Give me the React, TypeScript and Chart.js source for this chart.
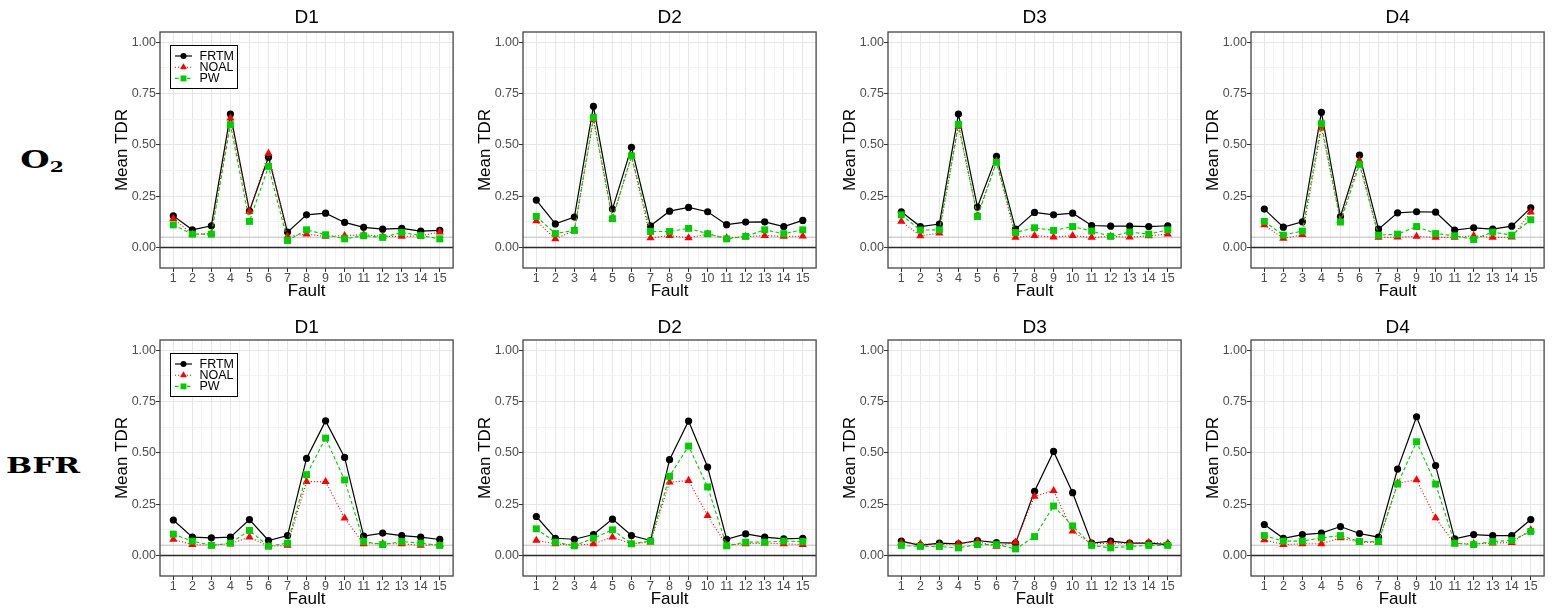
import React, { useEffect, useRef } from 'react';
import { Chart, registerables } from 'chart.js';
Chart.register(...registerables);

const FONT = 'Liberation Sans, Arial, Helvetica, sans-serif';
Chart.defaults.font.family = FONT;

const faults = [1, 2, 3, 4, 5, 6, 7, 8, 9, 10, 11, 12, 13, 14, 15];
const xGridValues = [0.5, 1, 1.5, 2, 2.5, 3, 3.5, 4, 4.5, 5, 5.5, 6, 6.5, 7, 7.5, 8, 8.5, 9, 9.5, 10, 10.5, 11, 11.5, 12, 12.5, 13, 13.5, 14, 14.5, 15, 15.5];
const yGridValues = [0, 0.125, 0.25, 0.375, 0.5, 0.625, 0.75, 0.875, 1];
const yTickLabels: Record<string, string> = { '0': '0.00', '0.25': '0.25', '0.5': '0.50', '0.75': '0.75', '1': '1.00' };
const seriesNames = ['FRTM', 'NOAL', 'PW'];
const panelTitles = ['D1', 'D2', 'D3', 'D4'];
const rowLabels = ['O', 'BFR'];

// O2 row
const o2D1Frtm = [0.154, 0.086, 0.106, 0.650, 0.178, 0.440, 0.075, 0.159, 0.167, 0.122, 0.098, 0.089, 0.093, 0.080, 0.083];
const o2D1Noal = [0.140, 0.065, 0.067, 0.630, 0.175, 0.458, 0.054, 0.065, 0.054, 0.058, 0.062, 0.054, 0.054, 0.057, 0.075];
const o2D1Pw = [0.110, 0.065, 0.065, 0.598, 0.127, 0.395, 0.034, 0.086, 0.062, 0.042, 0.057, 0.049, 0.073, 0.058, 0.042];

const o2D2Frtm = [0.231, 0.115, 0.148, 0.688, 0.187, 0.488, 0.106, 0.177, 0.195, 0.174, 0.111, 0.124, 0.125, 0.102, 0.132];
const o2D2Noal = [0.130, 0.042, 0.083, 0.623, 0.140, 0.444, 0.047, 0.058, 0.047, 0.065, 0.047, 0.052, 0.058, 0.054, 0.055];
const o2D2Pw = [0.151, 0.068, 0.083, 0.633, 0.140, 0.446, 0.078, 0.078, 0.093, 0.067, 0.042, 0.054, 0.086, 0.067, 0.086];

const o2D3Frtm = [0.174, 0.102, 0.114, 0.650, 0.197, 0.444, 0.089, 0.171, 0.159, 0.167, 0.107, 0.104, 0.104, 0.102, 0.106];
const o2D3Noal = [0.127, 0.057, 0.070, 0.590, 0.154, 0.420, 0.049, 0.058, 0.050, 0.058, 0.049, 0.054, 0.050, 0.057, 0.065];
const o2D3Pw = [0.159, 0.085, 0.086, 0.600, 0.151, 0.415, 0.073, 0.096, 0.083, 0.102, 0.080, 0.054, 0.075, 0.065, 0.086];

const o2D4Frtm = [0.187, 0.099, 0.125, 0.659, 0.151, 0.450, 0.089, 0.169, 0.174, 0.172, 0.085, 0.096, 0.089, 0.104, 0.193];
const o2D4Noal = [0.110, 0.044, 0.062, 0.582, 0.132, 0.423, 0.049, 0.050, 0.054, 0.049, 0.049, 0.057, 0.049, 0.050, 0.172];
const o2D4Pw = [0.127, 0.060, 0.080, 0.603, 0.124, 0.405, 0.060, 0.065, 0.102, 0.068, 0.057, 0.039, 0.075, 0.060, 0.135];

// BFR row
const bfrD1Frtm = [0.173, 0.089, 0.086, 0.089, 0.175, 0.073, 0.097, 0.473, 0.656, 0.478, 0.094, 0.109, 0.097, 0.089, 0.078];
const bfrD1Noal = [0.078, 0.053, 0.050, 0.057, 0.089, 0.045, 0.049, 0.360, 0.360, 0.182, 0.057, 0.057, 0.057, 0.049, 0.053];
const bfrD1Pw = [0.104, 0.070, 0.049, 0.060, 0.122, 0.045, 0.060, 0.394, 0.572, 0.368, 0.068, 0.053, 0.068, 0.060, 0.049];

const bfrD2Frtm = [0.190, 0.084, 0.079, 0.102, 0.177, 0.097, 0.073, 0.467, 0.655, 0.431, 0.079, 0.105, 0.089, 0.081, 0.084];
const bfrD2Noal = [0.073, 0.057, 0.049, 0.057, 0.089, 0.057, 0.065, 0.357, 0.365, 0.194, 0.050, 0.057, 0.060, 0.057, 0.053];
const bfrD2Pw = [0.130, 0.065, 0.047, 0.084, 0.125, 0.057, 0.070, 0.386, 0.533, 0.334, 0.047, 0.065, 0.065, 0.070, 0.068];

const bfrD3Frtm = [0.070, 0.049, 0.060, 0.057, 0.073, 0.063, 0.060, 0.313, 0.507, 0.306, 0.060, 0.070, 0.060, 0.060, 0.053];
const bfrD3Noal = [0.063, 0.057, 0.053, 0.057, 0.068, 0.044, 0.065, 0.288, 0.316, 0.118, 0.057, 0.060, 0.060, 0.063, 0.060];
const bfrD3Pw = [0.049, 0.044, 0.044, 0.037, 0.053, 0.053, 0.032, 0.092, 0.241, 0.144, 0.049, 0.037, 0.044, 0.049, 0.049];

const bfrD4Frtm = [0.151, 0.084, 0.102, 0.109, 0.141, 0.107, 0.089, 0.421, 0.676, 0.438, 0.081, 0.102, 0.097, 0.097, 0.175];
const bfrD4Noal = [0.076, 0.053, 0.057, 0.057, 0.086, 0.063, 0.063, 0.353, 0.368, 0.183, 0.057, 0.057, 0.060, 0.063, 0.125];
const bfrD4Pw = [0.097, 0.070, 0.070, 0.086, 0.097, 0.068, 0.068, 0.348, 0.554, 0.348, 0.060, 0.053, 0.068, 0.073, 0.117];

const refLines = [0, 0.05];

type Panel = { row: number; col: number; sets: number[][]; legend: boolean };

const panels: Panel[] = [
  { row: 0, col: 0, sets: [o2D1Frtm, o2D1Noal, o2D1Pw], legend: true },
  { row: 0, col: 1, sets: [o2D2Frtm, o2D2Noal, o2D2Pw], legend: false },
  { row: 0, col: 2, sets: [o2D3Frtm, o2D3Noal, o2D3Pw], legend: false },
  { row: 0, col: 3, sets: [o2D4Frtm, o2D4Noal, o2D4Pw], legend: false },
  { row: 1, col: 0, sets: [bfrD1Frtm, bfrD1Noal, bfrD1Pw], legend: true },
  { row: 1, col: 1, sets: [bfrD2Frtm, bfrD2Noal, bfrD2Pw], legend: false },
  { row: 1, col: 2, sets: [bfrD3Frtm, bfrD3Noal, bfrD3Pw], legend: false },
  { row: 1, col: 3, sets: [bfrD4Frtm, bfrD4Noal, bfrD4Pw], legend: false },
];

const styles = [
  { color: '#000000', dash: [] as number[], pointStyle: 'circle', radius: 3.6, width: 1.2 },
  { color: '#FF0000', dash: [1, 2], pointStyle: 'triangle', radius: 4.7, width: 1.1 },
  { color: '#00CD00', dash: [3.5, 2.5], pointStyle: 'rect', radius: 4.9, width: 1.1 },
];

const PLOT_LEFTS = [160, 523, 888, 1251];
const ROW_TOPS = [0, 308];
const Y_AXIS_W = 56;
const CANVAS_W = 354;
const CANVAS_H = 304;

function drawMarker(ctx: CanvasRenderingContext2D, kind: string, x: number, y: number, r: number, color: string) {
  ctx.save();
  ctx.fillStyle = color;
  ctx.beginPath();
  if (kind === 'circle') {
    ctx.arc(x, y, r, 0, Math.PI * 2);
  } else if (kind === 'triangle') {
    for (let k = 0; k < 3; k++) {
      const a = (k * 2 * Math.PI) / 3;
      const px = x + Math.sin(a) * r;
      const py = y - Math.cos(a) * r;
      if (k === 0) ctx.moveTo(px, py);
      else ctx.lineTo(px, py);
    }
    ctx.closePath();
  } else {
    const s = Math.SQRT1_2 * r;
    ctx.rect(x - s, y - s, 2 * s, 2 * s);
  }
  ctx.fill();
  ctx.restore();
}

const decorPlugin = {
  id: 'panelDecor',
  beforeDatasetsDraw(chart: any) {
    const { ctx, chartArea: ca, scales } = chart;
    ctx.save();
    ctx.beginPath();
    ctx.rect(ca.left, ca.top, ca.right - ca.left, ca.bottom - ca.top);
    ctx.clip();
    refLines.forEach((v, i) => {
      const py = scales.y.getPixelForValue(v);
      ctx.beginPath();
      ctx.strokeStyle = i === 0 ? '#2B2B2B' : '#BDBDBD';
      ctx.lineWidth = i === 0 ? 1.3 : 1;
      ctx.moveTo(ca.left, py);
      ctx.lineTo(ca.right, py);
      ctx.stroke();
    });
    ctx.restore();
  },
  afterDraw(chart: any, _args: any, opts: any) {
    const { ctx, chartArea: ca } = chart;
    ctx.save();
    ctx.strokeStyle = '#444444';
    ctx.lineWidth = 1.3;
    ctx.strokeRect(ca.left, ca.top, ca.right - ca.left, ca.bottom - ca.top);
    if (opts && opts.legend) {
      const lx = ca.left + 10;
      const ly = ca.top + 13;
      const lw = 67;
      const lh = 43;
      ctx.fillStyle = '#FFFFFF';
      ctx.fillRect(lx, ly, lw, lh);
      ctx.strokeStyle = '#000000';
      ctx.lineWidth = 1;
      ctx.strokeRect(lx + 0.5, ly + 0.5, lw, lh);
      seriesNames.forEach((name, i) => {
        const st = styles[i];
        const cy = ly + 11 + i * 11.2;
        ctx.beginPath();
        ctx.setLineDash(st.dash);
        ctx.strokeStyle = st.color;
        ctx.lineWidth = st.width;
        ctx.moveTo(lx + 5, cy);
        ctx.lineTo(lx + 22, cy);
        ctx.stroke();
        ctx.setLineDash([]);
        drawMarker(ctx, st.pointStyle, lx + 13.5, cy, st.radius * 0.85, st.color);
        ctx.fillStyle = '#000000';
        ctx.font = `12.5px ${FONT}`;
        ctx.textBaseline = 'middle';
        ctx.textAlign = 'left';
        ctx.fillText(name, lx + 29.5, cy + 0.5);
      });
    }
    ctx.restore();
  },
};

const isMajorX = (v: number) => Number.isInteger(v);
const isMajorY = (v: number) => Math.abs(v * 4 - Math.round(v * 4)) < 1e-6;

function makeConfig(p: Panel): any {
  return {
    type: 'line',
    data: {
      datasets: p.sets.map((vals, i) => ({
        label: seriesNames[i],
        data: faults.map((f, k) => ({ x: f, y: vals[k] })),
        borderColor: styles[i].color,
        backgroundColor: styles[i].color,
        borderWidth: styles[i].width,
        borderDash: styles[i].dash,
        pointStyle: styles[i].pointStyle,
        pointRadius: styles[i].radius,
        pointHoverRadius: styles[i].radius,
        pointBorderWidth: 0,
        pointBackgroundColor: styles[i].color,
        tension: 0,
        fill: false,
        order: 2 - i,
      })),
    },
    options: {
      responsive: false,
      animation: false,
      devicePixelRatio: 1,
      events: [],
      layout: { padding: { left: 0, right: 4, top: 0, bottom: 0 } },
      plugins: {
        legend: { display: false },
        tooltip: { enabled: false },
        title: {
          display: true,
          text: panelTitles[p.col],
          fullSize: false,
          color: '#000000',
          font: { family: FONT, size: 19, weight: 'normal' },
          padding: p.row === 0 ? { top: 6, bottom: 3.2 } : { top: 8, bottom: 1.2 },
        },
        panelDecor: { legend: p.legend },
      },
      scales: {
        x: {
          type: 'linear',
          min: 0.3,
          max: 15.7,
          afterBuildTicks: (s: any) => {
            s.ticks = xGridValues.map((v) => ({ value: v }));
          },
          afterFit: (s: any) => {
            s.height = 36;
          },
          ticks: {
            autoSkip: false,
            maxRotation: 0,
            minRotation: 0,
            padding: -1,
            color: '#4D4D4D',
            font: { family: FONT, size: 12.5 },
            callback: (v: number) => (isMajorX(v) ? String(v) : ''),
          },
          grid: {
            color: (c: any) => (c.tick && isMajorX(c.tick.value) ? '#E6E6E6' : '#F3F3F3'),
            lineWidth: 1,
            drawTicks: true,
            tickLength: 4,
            tickWidth: 1,
            tickColor: (c: any) => (c.tick && isMajorX(c.tick.value) ? '#333333' : 'rgba(0,0,0,0)'),
          },
          border: { display: false },
          title: {
            display: true,
            text: 'Fault',
            color: '#000000',
            font: { family: FONT, size: 17 },
            padding: { top: 0, bottom: 2.5 },
          },
        },
        y: {
          type: 'linear',
          min: -0.1,
          max: 1.05,
          afterBuildTicks: (s: any) => {
            s.ticks = yGridValues.map((v) => ({ value: v }));
          },
          afterFit: (s: any) => {
            s.width = Y_AXIS_W;
          },
          ticks: {
            autoSkip: false,
            padding: 0,
            color: '#4D4D4D',
            font: { family: FONT, size: 12.5 },
            callback: (v: number) => (isMajorY(v) ? yTickLabels[String(v)] ?? v.toFixed(2) : ''),
          },
          grid: {
            color: (c: any) => (c.tick && isMajorY(c.tick.value) ? '#E6E6E6' : '#F3F3F3'),
            lineWidth: 1,
            drawTicks: true,
            tickLength: 4,
            tickWidth: 1,
            tickColor: (c: any) => (c.tick && isMajorY(c.tick.value) ? '#333333' : 'rgba(0,0,0,0)'),
          },
          border: { display: false },
          title: {
            display: true,
            text: 'Mean TDR',
            color: '#000000',
            font: { family: FONT, size: 17 },
            padding: { top: 7.8, bottom: 0 },
          },
        },
      },
    },
    plugins: [decorPlugin],
  };
}

function PanelChart({ p }: { p: Panel }) {
  const ref = useRef<HTMLCanvasElement | null>(null);
  useEffect(() => {
    if (!ref.current) return;
    const chart = new Chart(ref.current, makeConfig(p));
    return () => chart.destroy();
  }, [p]);
  return (
    <canvas
      ref={ref}
      width={CANVAS_W}
      height={CANVAS_H}
      style={{
        position: 'absolute',
        left: PLOT_LEFTS[p.col] - Y_AXIS_W,
        top: ROW_TOPS[p.row],
        width: CANVAS_W,
        height: CANVAS_H,
      }}
    />
  );
}

const rowLabelStyle: React.CSSProperties = {
  position: 'absolute',
  fontFamily: 'DejaVu Serif, serif',
  fontWeight: 'bold',
  fontSize: 23,
  lineHeight: 1,
  whiteSpace: 'nowrap',
  color: '#000',
  transform: 'translate(-50%, -50%) scaleX(1.35)',
};

export default function App() {
  return (
    <div
      style={{
        position: 'absolute',
        left: 0,
        top: 0,
        width: 1552,
        height: 609,
        overflow: 'hidden',
        background: '#FFFFFF',
      }}
    >
      <div style={{ ...rowLabelStyle, left: 42, top: 161, fontSize: 25 }}>
        {rowLabels[0]}
        <sub style={{ fontSize: 15, verticalAlign: '-0.3em' }}>2</sub>
      </div>
      <div style={{ ...rowLabelStyle, left: 43, top: 464 }}>{rowLabels[1]}</div>
      {panels.map((p) => (
        <PanelChart key={`${p.row}-${p.col}`} p={p} />
      ))}
    </div>
  );
}
